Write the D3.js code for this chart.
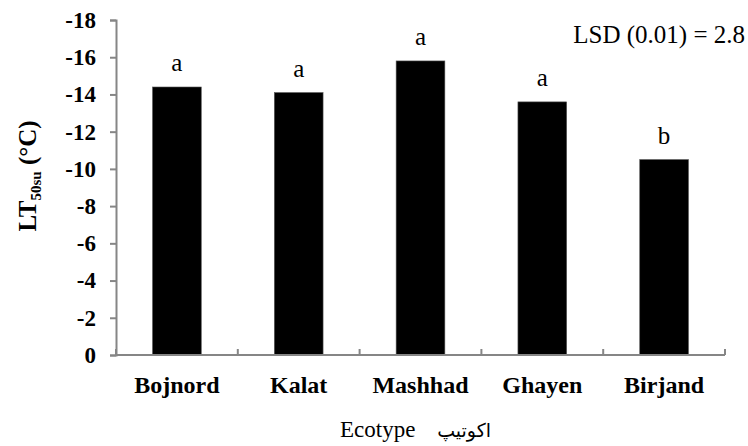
<!DOCTYPE html>
<html>
<head>
<meta charset="utf-8">
<script src="https://cdn.jsdelivr.net/npm/d3@7"></script>
<style>
  body { margin: 0; background: #fff; }
  svg text { font-family: "Liberation Serif", "Tinos", "Times New Roman", "DejaVu Serif", serif; }
</style>
</head>
<body>
<svg id="chart" width="748" height="446"></svg>
<script>
const ecotypes = ['Bojnord', 'Kalat', 'Mashhad', 'Ghayen', 'Birjand'];
const lt50 = [-14.4, -14.1, -15.8, -13.6, -10.5];
const groups = ['a', 'a', 'a', 'a', 'b'];
const yTicks = [0, -2, -4, -6, -8, -10, -12, -14, -16, -18];
const lsdText = 'LSD (0.01) = 2.8';

const svg = d3.select('#chart');
const margin = {top: 20, right: 23, bottom: 91, left: 116};
const width = +svg.attr('width') - margin.left - margin.right;
const height = +svg.attr('height') - margin.top - margin.bottom;
const g = svg.append('g').attr('transform', 'translate(' + margin.left + ',' + margin.top + ')');

const x = d3.scaleBand().domain(ecotypes).range([0, width]).paddingInner(0.6).paddingOuter(0.3);
const y = d3.scaleLinear().domain([0, -18]).range([height, 0]);
const axisColor = '#868686';

// bars
g.selectAll('.bar')
  .data(lt50)
  .enter().append('rect')
  .attr('class', 'bar')
  .attr('x', (d, i) => x(ecotypes[i]))
  .attr('y', d => y(d))
  .attr('width', x.bandwidth())
  .attr('height', d => y(0) - y(d))
  .attr('fill', '#000')
  .attr('stroke', '#555')
  .attr('stroke-width', 0.6);

// significance letters
g.selectAll('.grp')
  .data(lt50)
  .enter().append('text')
  .attr('x', (d, i) => x(ecotypes[i]) + x.bandwidth() / 2)
  .attr('y', d => y(d) - 16)
  .attr('text-anchor', 'middle')
  .attr('font-size', 25)
  .text((d, i) => groups[i]);

// y axis
const yAxis = g.append('g')
  .call(d3.axisLeft(y).tickValues(yTicks).tickSize(6).tickPadding(14).tickFormat(d => String(d)));
yAxis.attr('font-family', null);
yAxis.select('.domain').attr('stroke', axisColor).attr('stroke-width', 2);
yAxis.selectAll('.tick line').attr('stroke', axisColor).attr('stroke-width', 2);
yAxis.selectAll('.tick text')
  .attr('font-size', 23)
  .attr('font-weight', 'bold')
  .attr('fill', '#000');

// x axis: ticks at category boundaries, pointing up
const bounds = ecotypes.map(c => x(c) - x.step() * 0.3).concat([width]);
const xAxis = g.append('g').attr('transform', 'translate(0,' + height + ')');
xAxis.append('line')
  .attr('x1', 0).attr('x2', width)
  .attr('stroke', axisColor).attr('stroke-width', 2);
xAxis.selectAll('.xt')
  .data(bounds)
  .enter().append('line')
  .attr('x1', d => d).attr('x2', d => d)
  .attr('y1', 0).attr('y2', -6)
  .attr('stroke', axisColor).attr('stroke-width', 2);
xAxis.selectAll('.xl')
  .data(ecotypes)
  .enter().append('text')
  .attr('x', d => x(d) + x.bandwidth() / 2)
  .attr('y', 38)
  .attr('text-anchor', 'middle')
  .attr('font-size', 24)
  .attr('font-weight', 'bold')
  .text(d => d);

// x axis title
svg.append('text')
  .attr('x', 340)
  .attr('y', 437)
  .attr('font-size', 23)
  .text('Ecotype');
svg.append('text')
  .attr('x', 491)
  .attr('y', 437)
  .attr('text-anchor', 'end')
  .style('font-family', '"DejaVu Sans", sans-serif')
  .attr('font-size', 19)
  .text('اکوتیپ');

// y axis title
const yt = svg.append('text')
  .attr('transform', 'translate(36,' + 176 + ') rotate(-90)')
  .attr('text-anchor', 'middle')
  .attr('font-size', 25)
  .attr('font-weight', 'bold');
yt.append('tspan').text('LT');
yt.append('tspan').attr('font-size', 15).attr('dy', 5).text('50su');
yt.append('tspan').attr('dy', -5).text(' (°C)');

// LSD note
svg.append('text')
  .attr('x', 745)
  .attr('y', 43)
  .attr('text-anchor', 'end')
  .attr('font-size', 25)
  .text(lsdText);
</script>
</body>
</html>
